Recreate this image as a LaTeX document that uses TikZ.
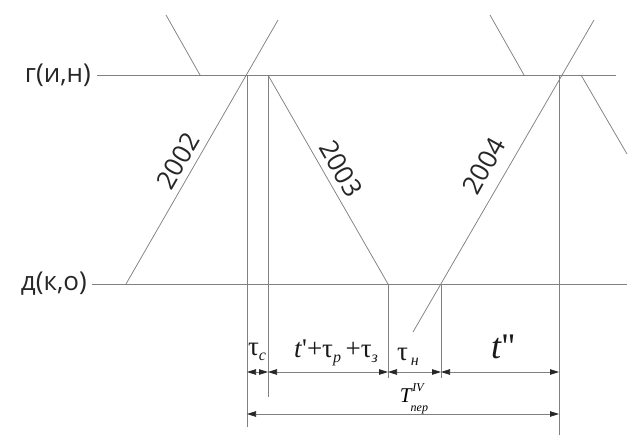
\documentclass[tikz,border=0pt]{standalone}
\usepackage{fontspec}
\setmainfont{Liberation Serif}[Ligatures=TeXOff]
\newfontfamily\lblsans{Open Sans}
\usetikzlibrary{arrows.meta}
\newcommand\mysub[2]{\raisebox{-0.45ex}{\fontsize{#1}{#1}\selectfont\itshape #2}}
\begin{document}
\begin{tikzpicture}[x=1pt,y=-1pt,
  ln/.style={draw=black!50, line width=0.75pt},
  dim/.style={draw=black!50, line width=0.75pt,
    {Triangle[length=9pt,width=5.5pt,color=black!85,fill=black!85]}-{Triangle[length=9pt,width=5.5pt,color=black!85,fill=black!85]}},
  side/.style={font=\lblsans\fontsize{26}{26}\selectfont, text=black!85, inner sep=0pt},
  train/.style={font=\lblsans\fontsize{26}{26}\selectfont, text=black!85, inner sep=0pt},
  mlbl/.style={font=\fontsize{27}{27}\selectfont, text=black!90, inner sep=0pt}]
\useasboundingbox (0,0) rectangle (641,442);
% key points
\coordinate (topL) at (97,75);
\coordinate (topR) at (616,75);
\coordinate (botL) at (92,284);
\coordinate (botR) at (627,284);
\coordinate (a1) at (126,284); \coordinate (a2) at (278,20);
\coordinate (b1) at (166,15);  \coordinate (b2) at (200,75);
\coordinate (c1) at (268,75);  \coordinate (c2) at (388,284);
\coordinate (e1) at (413,332); \coordinate (e2) at (594,20);
\coordinate (f1) at (490,15);  \coordinate (f2) at (524,75);
\coordinate (g1) at (581,75);  \coordinate (g2) at (627,154);
\coordinate (v1t) at (247,75);  \coordinate (v1b) at (247,427);
\coordinate (v2t) at (268,75);  \coordinate (v2b) at (268,397);
\coordinate (v3t) at (388,284); \coordinate (v3b) at (388,378);
\coordinate (v4t) at (441,284); \coordinate (v4b) at (441,378);
\coordinate (v5t) at (559,75);  \coordinate (v5b) at (559,435);
\coordinate (d1) at (247,372); \coordinate (d2) at (268,372);
\coordinate (d3) at (388,372); \coordinate (d4) at (441,372);
\coordinate (d5) at (559,372);
\coordinate (D1) at (247,414); \coordinate (D2) at (559,414);
% horizontal lines
\draw[ln] (topL) -- (topR);
\draw[ln] (botL) -- (botR);
% train lines
\draw[ln] (a1) -- (a2);
\draw[ln] (b1) -- (b2);
\draw[ln] (c1) -- (c2);
\draw[ln] (e1) -- (e2);
\draw[ln] (f1) -- (f2);
\draw[ln] (g1) -- (g2);
% verticals
\draw[ln] (v1t) -- (v1b);
\draw[ln] (v2t) -- (v2b);
\draw[ln] (v3t) -- (v3b);
\draw[ln] (v4t) -- (v4b);
\draw[ln] (v5t) -- (v5b);
% dimensions
\draw[dim] (d1) -- (d2);
\draw[dim] (d2) -- (d3);
\draw[dim] (d3) -- (d4);
\draw[dim] (d4) -- (d5);
\draw[dim] (D1) -- (D2);
% side labels
\node[side, anchor=east] (lg) at (91,75) {г(и,н)};
\node[side, anchor=east] (ld) at (87,284) {д(к,о)};
% train numbers
\node[train, rotate=60] (n2002) at (178,161) {2002};
\node[train, rotate=-60] (n2003) at (341,169) {2003};
\node[train, rotate=61] (n2004) at (484,166) {2004};
% dimension labels
\node[mlbl, anchor=base] (tc) at (257,355) {τ\mysub{16}{c}};
\node[mlbl, anchor=base] (tmid) at (336,357) {\textit{t}'+τ\mysub{16}{p}\,+τ\mysub{16}{з}};
\node[mlbl, anchor=base] (tn) at (408,360) {τ\hspace{3pt}\mysub{16}{н}};
\node[mlbl, anchor=base, font=\fontsize{36}{36}\selectfont] (tpp) at (503,358) {\textit{t}''};
\node[inner sep=0pt, anchor=base] (Tper) at (414,402) {\fontsize{21}{21}\selectfont\textit{T}\hspace{-0.5pt}\raisebox{1.1ex}{\fontsize{12}{12}\selectfont\itshape IV}\hspace{-13pt}\raisebox{-1.0ex}{\fontsize{12}{12}\selectfont\itshape пер}};
\end{tikzpicture}
\end{document}
